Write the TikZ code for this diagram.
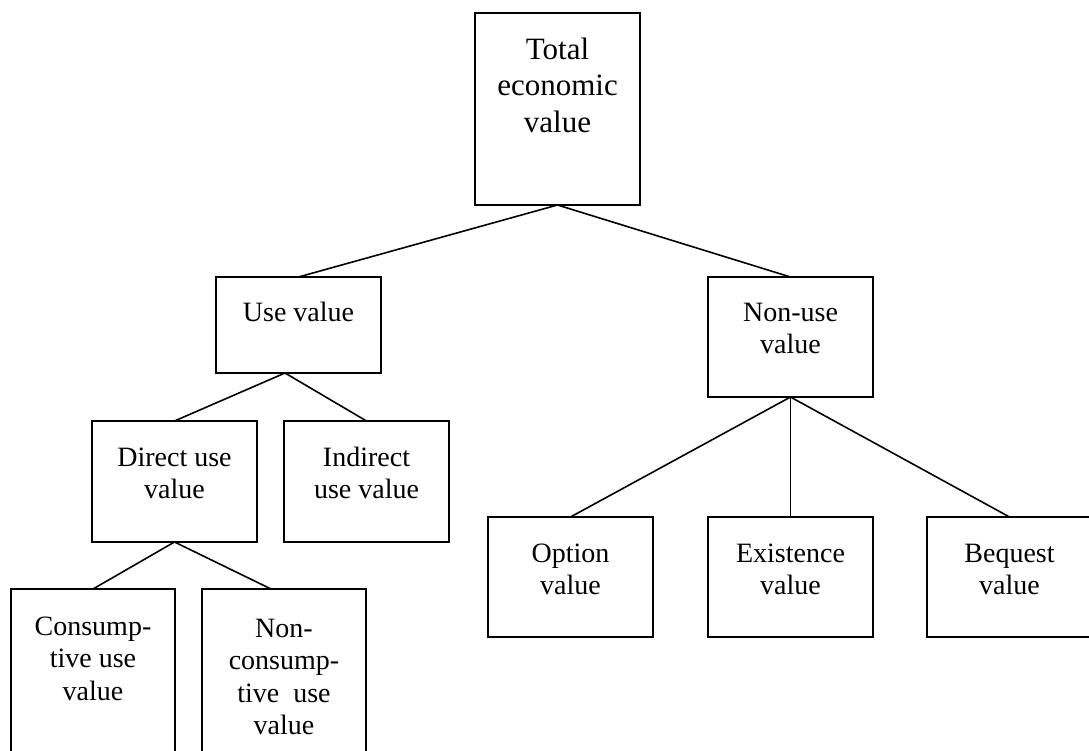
\documentclass[tikz,border=0pt]{standalone}
\usepackage{fontspec}
\setmainfont{Liberation Serif}
\begin{document}
\begin{tikzpicture}[x=1pt,y=-1pt,
  box/.style={draw, line width=1.6pt, inner sep=0pt, outer sep=0pt, minimum width=165pt},
  conn/.style={line width=1.6pt},
  lbl/.style={align=center, inner sep=0pt, anchor=north, font=\fontsize{28}{32.5}\selectfont},
  biglbl/.style={align=center, inner sep=0pt, anchor=north, font=\fontsize{31}{36.5}\selectfont}]
\useasboundingbox (0,0) rectangle (1089,751);
\fill[white] (0,0) rectangle (1089,751);
\clip (0,0) rectangle (1089,751);

% boxes
\node[box, minimum height=192pt] (tot) at (557.5,109) {};
\node[box, minimum height=96pt] (use) at (298.5,325) {};
\node[box, minimum height=120pt] (nonuse) at (790.5,337) {};
\node[box, minimum height=121pt] (direct) at (174.5,481.5) {};
\node[box, minimum height=121pt] (indirect) at (366.5,481.5) {};
\node[box, minimum width=164pt, minimum height=211pt] (cons) at (93,694.5) {};
\node[box, minimum width=164pt, minimum height=211pt] (noncons) at (284,694.5) {};
\node[box, minimum height=120pt] (option) at (570.5,577) {};
\node[box, minimum height=120pt] (exist) at (790.5,577) {};
\node[box, minimum height=120pt] (bequest) at (1009.5,577) {};

% labels
\node[biglbl] (totL) at (557.5,33.45) {\strut Total\\economic\\value};
\node[lbl] (useL) at (298.5,298.25) {\strut Use value};
\node[lbl] (nonuseL) at (790.5,298.25) {\strut Non-use\\value};
\node[lbl] (directL) at (174.5,443.25) {\strut Direct use\\value};
\node[lbl] (indirectL) at (366.5,443.25) {\strut Indirect\\use value};
\node[lbl] (consL) at (93,612.25) {\strut Consump-\\tive use\\value};
\node[lbl] (nonconsL) at (284,614.25) {\strut Non-\\consump-\\tive\ \ use\\value};
\node[lbl] (optionL) at (570.5,539.25) {\strut Option\\value};
\node[lbl] (existL) at (790.5,539.25) {\strut Existence\\value};
\node[lbl] (bequestL) at (1009.5,539.25) {\strut Bequest\\value};

% connectors
\draw[conn] (tot.south) -- (use.north);
\draw[conn] (tot.south) -- (nonuse.north);
\draw[conn] ([xshift=-13.5pt]use.south) -- (direct.north);
\draw[conn] ([xshift=-13.5pt]use.south) -- (indirect.north);
\draw[conn] (direct.south) -- (cons.north);
\draw[conn] (direct.south) -- ([xshift=-13pt]noncons.north);
\draw[conn] (nonuse.south) -- (option.north);
\draw[conn] (nonuse.south) -- (exist.north);
\draw[conn] (nonuse.south) -- (bequest.north);
\end{tikzpicture}
\end{document}
